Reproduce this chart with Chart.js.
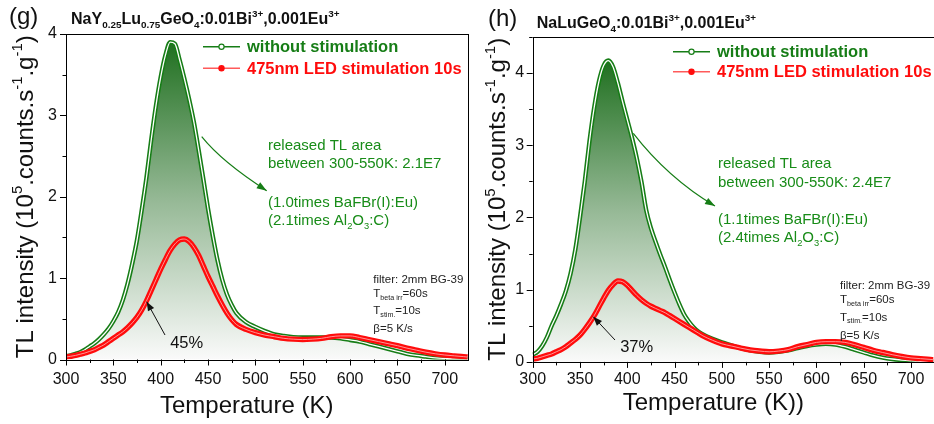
<!DOCTYPE html>
<html>
<head>
<meta charset="utf-8">
<script src="https://cdn.jsdelivr.net/npm/chart.js@4.4.1/dist/chart.umd.min.js"></script>
<style>
  html, body { margin: 0; padding: 0; background: #fff; }
  #wrap { position: relative; width: 934px; height: 424px; }
  #cg { position: absolute; left: 0; top: 0; }
  #ch { position: absolute; left: 470px; top: 0; }
</style>
</head>
<body>
<div id="wrap">
  <canvas id="cg" width="470" height="424"></canvas>
  <canvas id="ch" width="464" height="424"></canvas>
</div>
<script>
// Temperature grid (K) shared by every curve
const temps = [300,305,310,315,320,325,330,335,340,345,350,355,360,365,370,375,380,385,390,395,
  400,405,410,415,420,425,430,435,440,445,450,455,460,465,470,475,480,490,500,510,520,530,540,550,
  560,570,580,590,600,610,620,630,640,650,660,670,680,690,700,710,720,724];

// (g) NaY0.25Lu0.75GeO4 - TL intensity (1e5 counts/s/g)
const gWithout = [0.04,0.05,0.07,0.09,0.12,0.16,0.20,0.25,0.31,0.38,0.47,0.58,0.73,0.93,1.18,1.47,1.84,2.24,2.70,3.12,
  3.47,3.74,3.90,3.88,3.68,3.45,3.20,2.92,2.58,2.22,1.85,1.52,1.22,0.98,0.80,0.67,0.57,0.46,0.40,0.35,0.31,0.29,0.275,0.27,
  0.27,0.27,0.27,0.26,0.24,0.22,0.19,0.16,0.13,0.10,0.07,0.05,0.035,0.02,0.012,0.006,0.003,0.002];
const gLed = [0.03,0.04,0.05,0.065,0.08,0.10,0.12,0.15,0.18,0.22,0.26,0.30,0.34,0.39,0.45,0.52,0.61,0.72,0.85,0.98,
  1.11,1.23,1.34,1.42,1.47,1.48,1.45,1.38,1.28,1.15,1.02,0.90,0.78,0.67,0.57,0.49,0.43,0.37,0.33,0.30,0.28,0.26,0.25,0.245,
  0.25,0.26,0.28,0.29,0.29,0.27,0.245,0.22,0.195,0.17,0.14,0.115,0.09,0.07,0.055,0.045,0.035,0.03];

// (h) NaLuGeO4
const hWithout = [0.10,0.14,0.22,0.34,0.50,0.64,0.80,0.98,1.22,1.55,2.00,2.49,3.05,3.52,3.88,4.10,4.17,4.08,3.86,3.60,
  3.35,3.10,2.82,2.49,2.10,1.85,1.66,1.48,1.31,1.13,0.96,0.80,0.66,0.56,0.48,0.42,0.38,0.32,0.27,0.23,0.19,0.16,0.14,0.13,
  0.14,0.16,0.19,0.22,0.24,0.25,0.24,0.21,0.17,0.13,0.09,0.06,0.04,0.025,0.015,0.008,0.004,0.003];
const hLed = [0.04,0.05,0.07,0.09,0.11,0.14,0.17,0.21,0.26,0.31,0.37,0.45,0.54,0.64,0.76,0.88,0.99,1.07,1.12,1.11,
  1.06,0.99,0.92,0.86,0.81,0.77,0.74,0.71,0.68,0.64,0.60,0.56,0.52,0.48,0.44,0.40,0.36,0.30,0.25,0.22,0.19,0.165,0.15,0.14,
  0.15,0.17,0.21,0.24,0.27,0.28,0.28,0.27,0.24,0.20,0.16,0.13,0.10,0.075,0.055,0.045,0.035,0.03];

const xTickLabels = [300,350,400,450,500,550,600,650,700];
const yTickLabels = [0,1,2,3,4];
const xMinorStep = 25;
const yMinorStep = 0.5;

const FONT = "'Liberation Sans', Arial, sans-serif";
const GREEN = "rgb(22,125,22)";
const RED = "rgb(255,12,12)";
const TEXT_GREEN = "rgb(24,140,24)";

function pairs(ys) {
  return temps.map((t, i) => ({ x: t, y: ys[i] }));
}

// draw a run of [text, kind] pieces, kind "" | "sub" | "sup"
function richWidth(ctx, parts, size, weight) {
  let w = 0;
  parts.forEach(([txt, kind]) => {
    ctx.font = `${weight} ${kind ? size * 0.62 : size}px ${FONT}`;
    w += ctx.measureText(txt).width;
  });
  return w;
}
function richText(ctx, x, y, parts, size, weight, color) {
  ctx.save();
  ctx.fillStyle = color;
  ctx.textAlign = "left";
  ctx.textBaseline = "alphabetic";
  let cx = x;
  parts.forEach(([txt, kind]) => {
    const s = kind ? size * 0.62 : size;
    const dy = kind === "sub" ? size * 0.22 : kind === "sup" ? -size * 0.42 : 0;
    ctx.font = `${weight} ${s}px ${FONT}`;
    ctx.fillText(txt, cx, y + dy);
    cx += ctx.measureText(txt).width;
  });
  ctx.restore();
}

function arrowHead(ctx, x, y, ang, len, half, color) {
  ctx.save();
  ctx.fillStyle = color;
  ctx.translate(x, y);
  ctx.rotate(ang);
  ctx.beginPath();
  ctx.moveTo(0, 0);
  ctx.lineTo(-len, -half);
  ctx.lineTo(-len, half);
  ctx.closePath();
  ctx.fill();
  ctx.restore();
}

function greenFill(context, values) {
  const chart = context.chart;
  const a = chart.chartArea;
  if (!a) return null;
  const top = chart.scales.y.getPixelForValue(Math.max(...values));
  const g = chart.ctx.createLinearGradient(0, top, 0, a.bottom);
  g.addColorStop(0, "rgb(32,112,32)");
  g.addColorStop(0.5, "rgb(150,185,150)");
  g.addColorStop(1, "rgb(250,250,250)");
  return g;
}

// everything drawn around the plot: frame, ticks, titles, legend, notes
function decorPlugin(p) {
  return {
    id: "decor",
    afterDraw(chart) {
      const { ctx, chartArea: a, scales: { x, y } } = chart;
      ctx.save();
      ctx.strokeStyle = "#000";
      ctx.lineWidth = 1;
      ctx.strokeRect(Math.round(a.left) + 0.5, Math.round(a.top) + 0.5,
        Math.round(a.right - a.left), Math.round(a.bottom - a.top));
      ctx.beginPath();
      for (let t = 300; t <= p.xMax; t += xMinorStep) {
        const px = Math.round(x.getPixelForValue(t)) + 0.5;
        const len = t % 50 === 0 ? 6 : 3.5;
        ctx.moveTo(px, a.bottom);
        ctx.lineTo(px, a.bottom + len);
      }
      for (let v = 0; v <= p.yMax + 1e-6; v += yMinorStep) {
        const py = Math.round(y.getPixelForValue(v)) + 0.5;
        const len = Number.isInteger(v) ? 6 : 3.5;
        ctx.moveTo(a.left, py);
        ctx.lineTo(a.left - len, py);
      }
      ctx.stroke();

      // panel letter and compound
      richText(ctx, p.letterX, p.letterY, [[p.letter, ""]], 24, "normal", "#111");
      richText(ctx, p.titleX, p.titleY, p.title, 16, "bold", "#111");

      // axis titles
      richText(ctx, p.xTitleX, p.xTitleY, [[p.xTitle, ""]], 24, "normal", "#111");
      const yParts = [["TL intensity (10", ""], ["5", "sup"], [".counts.s", ""], ["-1", "sup"],
        [".g", ""], ["-1", "sup"], [")", ""]];
      const yw = richWidth(ctx, yParts, 24, "normal");
      ctx.save();
      ctx.translate(p.yTitleX, (a.top + a.bottom) / 2);
      ctx.rotate(-Math.PI / 2);
      richText(ctx, -yw / 2, 0, yParts, 24, "normal", "#111");
      ctx.restore();

      // legend
      const rows = [
        { label: "without stimulation", color: GREEN, line: GREEN, hollow: true },
        { label: "475nm LED stimulation 10s", color: RED, line: "rgb(255,90,90)", hollow: false }
      ];
      rows.forEach((r, i) => {
        const ly = p.legendY[i];
        ctx.strokeStyle = r.line;
        ctx.lineWidth = 1.5;
        ctx.beginPath();
        ctx.moveTo(203, ly);
        ctx.lineTo(240, ly);
        ctx.stroke();
        ctx.beginPath();
        ctx.arc(221.5, ly, 2.6, 0, Math.PI * 2);
        ctx.fillStyle = r.hollow ? "#fff" : r.color;
        ctx.fill();
        ctx.strokeStyle = r.color;
        ctx.lineWidth = 1.2;
        ctx.stroke();
        ctx.font = `bold 16.5px ${FONT}`;
        ctx.fillStyle = r.color;
        ctx.textBaseline = "middle";
        ctx.fillText(r.label, 247, ly + 1);
      });

      // released-area note + green arrow
      p.note.forEach((line, i) => richText(ctx, p.noteX, p.noteY[i], line, 15, "normal", TEXT_GREEN));
      const [s, c, e] = p.greenArrow;
      ctx.strokeStyle = GREEN;
      ctx.lineWidth = 1.2;
      ctx.beginPath();
      ctx.moveTo(s[0], s[1]);
      ctx.quadraticCurveTo(c[0], c[1], e[0], e[1]);
      ctx.stroke();
      arrowHead(ctx, e[0], e[1], Math.atan2(e[1] - c[1], e[0] - c[0]), 10, 3.5, GREEN);

      // measurement settings
      const info = [
        [["filter: 2mm BG-39", ""]],
        [["T", ""], ["beta irr", "sub"], ["=60s", ""]],
        [["T", ""], ["stim.", "sub"], ["=10s", ""]],
        [["\u03b2=5 K/s", ""]]
      ];
      info.forEach((line, i) => richText(ctx, p.infoX, p.infoY[i], line, 11.5, "normal", "#222"));

      // percentage arrow
      const [t0, h0] = p.blackArrow;
      ctx.strokeStyle = "#111";
      ctx.lineWidth = 1;
      ctx.beginPath();
      ctx.moveTo(t0[0], t0[1]);
      ctx.lineTo(h0[0], h0[1]);
      ctx.stroke();
      arrowHead(ctx, h0[0], h0[1], Math.atan2(h0[1] - t0[1], h0[0] - t0[0]), 9, 3.5, "#111");
      ctx.font = `16.5px ${FONT}`;
      ctx.fillStyle = "#111";
      ctx.textAlign = "center";
      ctx.textBaseline = "middle";
      ctx.fillText(p.pct, p.pctX, p.pctY);
      ctx.restore();
    }
  };
}

function buildChart(p) {
  const canvas = document.getElementById(p.canvas);
  const W = canvas.width, H = canvas.height;
  // lower order is painted later (on top)
  const line = (ys, color, width, order) => ({
    data: pairs(ys), borderColor: color, borderWidth: width, pointRadius: 0, order,
    fill: false, cubicInterpolationMode: "monotone"
  });
  const greenBand = line(p.without, GREEN, 4.4, 3);
  greenBand.fill = "origin";
  greenBand.backgroundColor = ctx => greenFill(ctx, p.without);

  return new Chart(canvas, {
    type: "line",
    data: {
      datasets: [
        greenBand,
        line(p.without, "#ffffff", 1.3, 2),
        line(p.led, RED, 5.4, 1),
        line(p.led, "rgb(255,165,165)", 0.9, 0)
      ]
    },
    options: {
      responsive: false,
      animation: false,
      devicePixelRatio: 1,
      layout: { padding: { left: 0, top: p.area.top, right: W - p.area.right, bottom: 0 } },
      plugins: { legend: { display: false }, tooltip: { enabled: false } },
      scales: {
        x: {
          type: "linear", min: 300, max: p.xMax,
          grid: { display: false, drawTicks: false }, border: { display: false },
          afterBuildTicks: s => { s.ticks = xTickLabels.map(v => ({ value: v })); },
          afterFit: s => { s.height = H - p.area.bottom; },
          ticks: { font: { family: FONT, size: 16 }, color: "#111", padding: p.xPad, maxRotation: 0, autoSkip: false }
        },
        y: {
          min: 0, max: p.yMax,
          grid: { display: false, drawTicks: false }, border: { display: false },
          afterBuildTicks: s => { s.ticks = yTickLabels.map(v => ({ value: v })); },
          afterFit: s => { s.width = p.area.left; },
          ticks: { font: { family: FONT, size: 16 }, color: "#111", padding: p.yPad }
        }
      }
    },
    plugins: [decorPlugin(p)]
  });
}

buildChart({
  canvas: "cg", without: gWithout, led: gLed, xMax: 724.5, yMax: 4,
  area: { left: 66, right: 468, top: 34, bottom: 359.5 }, xPad: 10, yPad: 9,
  letter: "(g)", letterX: 9, letterY: 24,
  title: [["NaY", ""], ["0.25", "sub"], ["Lu", ""], ["0.75", "sub"], ["GeO", ""], ["4", "sub"],
    [":0.01Bi", ""], ["3+", "sup"], [",0.001Eu", ""], ["3+", "sup"]],
  titleX: 71, titleY: 24,
  xTitle: "Temperature (K)", xTitleX: 160, xTitleY: 413, yTitleX: 32.5,
  legendY: [46.7, 68.3],
  note: [[["released TL area", ""]], [["between 300-550K: 2.1E7", ""]],
    [["(1.0times BaFBr(I):Eu)", ""]], [["(2.1times Al", ""], ["2", "sub"], ["O", ""], ["3", "sub"], [":C)", ""]]],
  noteX: 268, noteY: [150.4, 168.4, 207.4, 225.4],
  greenArrow: [[201.7, 136.7], [222, 162], [266.7, 190.7]],
  infoX: 373.3, infoY: [283.4, 297.4, 314.1, 332.4],
  blackArrow: [[165, 335], [146.7, 301.7]], pct: "45%", pctX: 186.7, pctY: 343
});

buildChart({
  canvas: "ch", without: hWithout, led: hLed, xMax: 723.5, yMax: 4.5,
  area: { left: 62.7, right: 463.3, top: 36.7, bottom: 361.9 }, xPad: 8.5, yPad: 8.5,
  letter: "(h)", letterX: 18, letterY: 25.5,
  title: [["NaLuGeO", ""], ["4", "sub"], [":0.01Bi", ""], ["3+", "sup"], [",0.001Eu", ""], ["3+", "sup"]],
  titleX: 66.7, titleY: 28,
  xTitle: "Temperature (K))", xTitleX: 152.7, xTitleY: 410, yTitleX: 35,
  legendY: [51.7, 71.7],
  note: [[["released TL area", ""]], [["between 300-550K: 2.4E7", ""]],
    [["(1.1times BaFBr(I):Eu)", ""]], [["(2.4times Al", ""], ["2", "sub"], ["O", ""], ["3", "sub"], [":C)", ""]]],
  noteX: 248, noteY: [168.4, 187.4, 224.4, 242.4],
  greenArrow: [[163.3, 133.3], [198, 178], [245, 206]],
  infoX: 370, infoY: [289.1, 303.4, 320.8, 339.1],
  blackArrow: [[145, 340], [123.3, 316.7]], pct: "37%", pctX: 166.7, pctY: 347
});
</script>
</body>
</html>
